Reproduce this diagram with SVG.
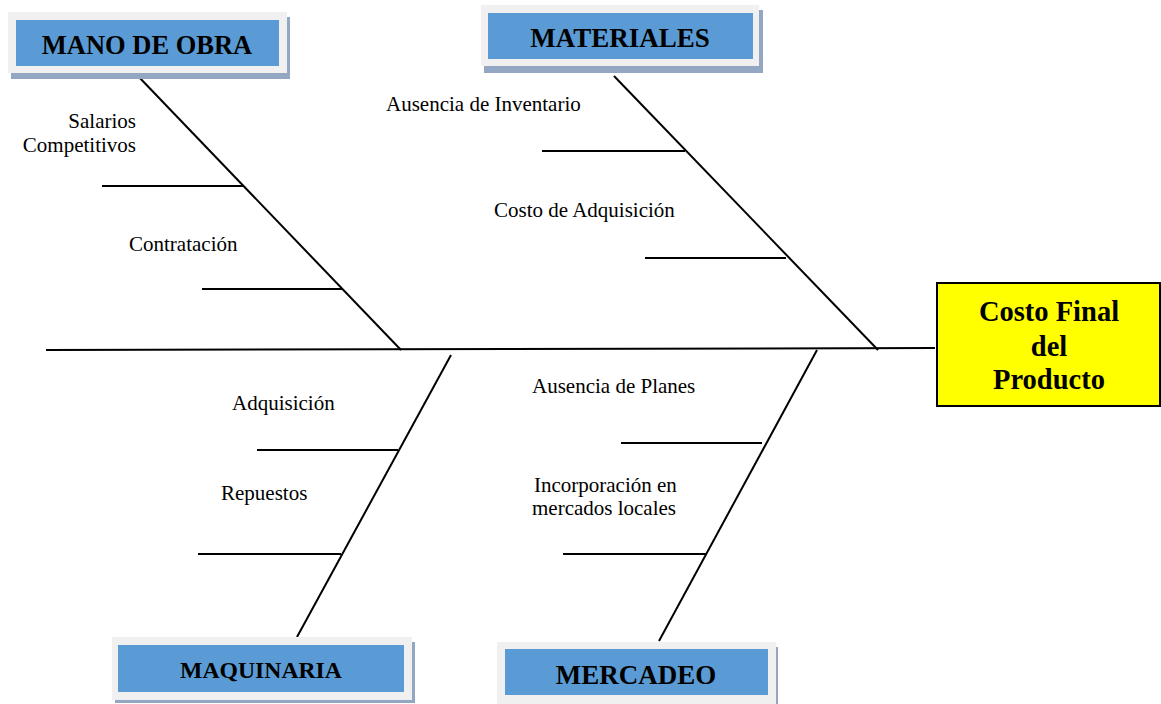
<svg xmlns="http://www.w3.org/2000/svg" width="1161" height="704" viewBox="0 0 1161 704">
<style>
.frame{fill:#f0f0f0}
.shadow{fill:#93a7c2}
.inner{fill:#5b9bd5}
.title{font-family:"Liberation Serif","Times New Roman",serif;font-weight:bold;fill:#000;text-anchor:middle}
.lbl{font-family:"Liberation Serif","Times New Roman",serif;font-size:21px;fill:#000}
.ln{stroke:#000;stroke-width:2;fill:none}
</style>
<rect width="1161" height="704" fill="#fff"/>
<g id="connectors">
<line class="ln" x1="46" y1="350" x2="935" y2="348"/>
<line class="ln" x1="137" y1="75" x2="401" y2="350"/>
<line class="ln" x1="614" y1="76" x2="878" y2="350"/>
<line class="ln" x1="451" y1="355" x2="297" y2="637"/>
<line class="ln" x1="817" y1="350" x2="659" y2="641"/>
<line class="ln" x1="102" y1="186" x2="244" y2="186"/>
<line class="ln" x1="202" y1="289" x2="342" y2="289"/>
<line class="ln" x1="542" y1="151" x2="685" y2="151"/>
<line class="ln" x1="645" y1="258" x2="786" y2="258"/>
<line class="ln" x1="257" y1="450" x2="398" y2="450"/>
<line class="ln" x1="198" y1="554" x2="341" y2="554"/>
<line class="ln" x1="621" y1="443" x2="762" y2="443"/>
<line class="ln" x1="563" y1="554" x2="706" y2="554"/>
</g>
<g id="mano-de-obra">
<rect class="shadow" x="11" y="17" width="279" height="62"/>
<rect class="frame" x="8" y="12" width="279" height="61"/>
<rect class="inner" x="16" y="20" width="263" height="46"/>
<text class="title" x="147" y="54" font-size="26.5">MANO DE OBRA</text>
</g>
<g id="materiales">
<rect class="shadow" x="484" y="10" width="279" height="63"/>
<rect class="frame" x="481" y="5" width="278" height="61"/>
<rect class="inner" x="488" y="13" width="265" height="46"/>
<text class="title" x="620" y="47" font-size="27">MATERIALES</text>
</g>
<g id="maquinaria">
<rect class="shadow" x="115" y="642" width="300" height="61"/>
<rect class="frame" x="112" y="637" width="300" height="63"/>
<rect class="inner" x="118" y="645" width="286" height="47"/>
<text class="title" x="261" y="678" font-size="23.7">MAQUINARIA</text>
</g>
<g id="mercadeo">
<rect class="shadow" x="500" y="647" width="278" height="57"/>
<rect class="frame" x="497" y="642" width="279" height="62"/>
<rect class="inner" x="505" y="649" width="263" height="46"/>
<text class="title" x="636" y="684" font-size="27">MERCADEO</text>
</g>
<g id="costo-final">
<rect x="937" y="283" width="223" height="123" fill="#ffff00" stroke="#000" stroke-width="2"/>
<text class="title" x="1049" y="321" font-size="28.5">Costo Final</text>
<text class="title" x="1049" y="356" font-size="28.5">del</text>
<text class="title" x="1049" y="389" font-size="28.5">Producto</text>
</g>
<g id="labels">
<text class="lbl" x="136" y="128" text-anchor="end">Salarios</text>
<text class="lbl" x="136" y="152" text-anchor="end">Competitivos</text>
<text class="lbl" x="129" y="251">Contratación</text>
<text class="lbl" x="386" y="111">Ausencia de Inventario</text>
<text class="lbl" x="494" y="217">Costo de Adquisición</text>
<text class="lbl" x="232" y="410">Adquisición</text>
<text class="lbl" x="221" y="500">Repuestos</text>
<text class="lbl" x="532" y="393">Ausencia de Planes</text>
<text class="lbl" x="534" y="492">Incorporación en</text>
<text class="lbl" x="532" y="515">mercados locales</text>
</g>
</svg>
